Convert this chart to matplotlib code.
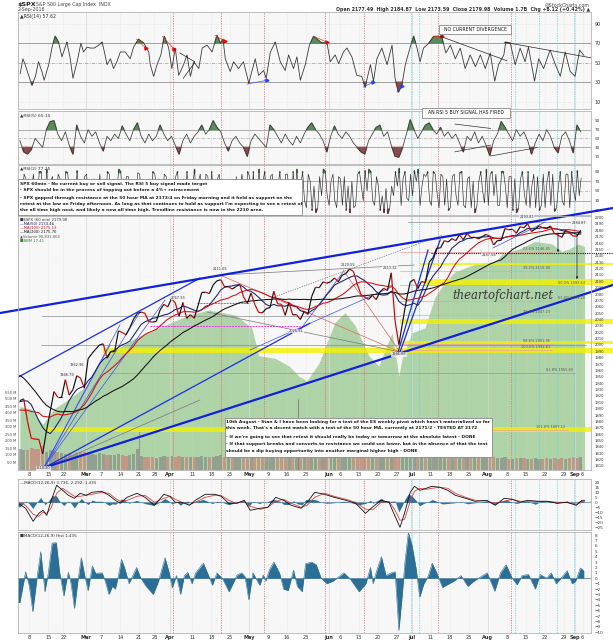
import numpy as np
import pandas as pd
import matplotlib
matplotlib.use("Agg")
import matplotlib.pyplot as plt
from matplotlib.collections import LineCollection
from matplotlib.patches import Rectangle

# ======================= DATA =======================
# S&P 500 closes (one per trading day, 3 Feb 2016 .. 2 Sep 2016); day index 0 = 8 Feb
close_prior = [2021.2, 2038.97, 2064.3, 2060.99, 2056.5, 2078.4, 2063.4, 2043.9,
               2012.7, 2016.7, 1990.3, 1943.1, 1922.0, 1923.7, 1938.7, 1890.3,
               1921.8, 1880.3, 1881.3, 1859.3, 1869.0, 1906.9, 1877.1, 1903.6,
               1882.95, 1893.4, 1940.2, 1939.4, 1903.0]
close = [
    1912.5, 1915.4, 1880.1, 1853.4, 1852.2, 1851.9, 1829.1, 1864.8, 1895.6, 1926.8,
    1917.8, 1917.8, 1945.5, 1921.3, 1929.8, 1951.7, 1948.1, 1932.2,
    1978.4, 1986.5, 1993.4, 1999.99, 2001.8, 1979.3, 1989.3, 1989.6, 2022.2, 2019.6,
    2015.9, 2027.2, 2040.6, 2049.6, 2051.6, 2049.8, 2036.7, 2035.9, 2037.1, 2055.0,
    2063.9, 2059.7,
    2072.8, 2066.1, 2045.2, 2066.7, 2041.9, 2047.6, 2041.99, 2061.7, 2082.4, 2082.8,
    2080.7, 2094.3, 2100.8, 2102.4, 2091.5, 2091.6, 2087.8, 2091.7, 2095.2, 2075.8, 2065.3,
    2081.4, 2063.4, 2051.1, 2050.6, 2057.1, 2058.7, 2084.4, 2064.5, 2064.1, 2046.6,
    2066.7, 2047.2, 2047.6, 2040.0, 2052.3, 2048.0, 2076.1, 2090.5, 2090.1, 2099.1, 2096.95,
    2099.3, 2105.3, 2099.1, 2109.4, 2112.1, 2119.1, 2115.5, 2096.1, 2079.1, 2075.3,
    2071.5, 2078.0, 2071.2, 2083.3, 2088.9, 2085.5, 2113.3, 2037.4, 2000.5, 2036.1,
    2070.8, 2098.9,
    2102.95, 2088.6, 2099.7, 2097.9, 2129.9, 2137.2, 2152.1, 2152.4, 2163.8, 2161.7,
    2166.9, 2163.8, 2173.0, 2165.2, 2175.0, 2168.5, 2169.2, 2166.6, 2170.1, 2173.6,
    2170.8, 2157.0, 2163.8, 2164.3, 2182.9, 2180.9, 2181.7, 2175.5, 2185.8, 2184.1,
    2190.2, 2178.2, 2182.2, 2187.0, 2183.9, 2182.6, 2186.9, 2175.4, 2172.5, 2169.0,
    2180.4, 2176.1, 2170.95,
    2170.9, 2179.98]
# hourly volume (millions), one value per day
volume_m = [
    150, 145, 140, 160, 150, 150, 170, 130, 140, 135, 125, 120, 115, 120, 110, 120, 125, 130,
    120, 115, 110, 120, 115, 110, 105, 110, 115, 105, 100, 110, 115, 150, 100, 95, 90, 95, 85, 90, 100, 95,
    100, 95, 100, 95, 90, 95, 90, 95, 100, 95, 90, 90, 100, 105, 95, 90, 90, 95, 95, 100, 105,
    95, 100, 105, 100, 95, 95, 100, 95, 90, 95, 90, 95, 100, 105, 100, 85, 90, 95, 90, 85, 100,
    95, 90, 90, 85, 90, 90, 95, 100, 105, 100, 95, 105, 120, 95, 95, 95, 100, 180, 160, 130, 120, 110,
    100, 95, 90, 90, 100, 95, 95, 90, 90, 95, 85, 85, 90, 85, 90, 85, 90, 90, 95, 90,
    95, 90, 85, 85, 90, 80, 80, 85, 85, 85, 80, 80, 85, 80, 80, 85, 80, 85, 80, 85, 80, 85, 90,
    85, 90]
vol_spike_day = [28, 70]
vol_spike_m = [293, 507]
# green breadth overlay (percent of panel)
bbm_day = [-3, 0, 3, 6, 9, 14.5, 19, 23, 27.5, 33.7, 41.6, 47, 53.8, 58.2, 60, 64.3, 68, 70.6,
           72.7, 75.9, 80.1, 82.8, 85.4, 89.1, 91.7, 95.2, 97, 98, 100.5, 103.9, 106.5, 109.2,
           111.8, 117.1, 122.4, 124.2, 128.7, 132.9, 137.4, 140, 141.8, 144.4, 146]
bbm_val = [25, 24, 18, 24, 27, 33, 44, 48, 52, 56, 61, 63, 61, 56, 45, 44, 41, 37, 35, 42, 58,
           62, 57, 45, 41, 54, 37, 45, 54, 56, 68, 74, 78, 81, 82, 85, 87, 90, 89, 86, 87, 89, 88]
# RSI(14): (day, value)
rsi14_pts = [(-2.9, 39), (-2.2, 54), (-1.6, 48), (-0.7, 37), (0.2, 27), (1.1, 36), (1.9, 51),
             (2.8, 41), (3.4, 32), (4.6, 48), (5.5, 66), (6.3, 77), (7.2, 71), (8.1, 56), (9.4, 71),
             (10.3, 54), (11.0, 34), (12.1, 51), (13.1, 70), (13.8, 61), (14.7, 66), (15.6, 65),
             (16.6, 65), (17.8, 68), (18.7, 71), (19.3, 61), (20.0, 48), (20.9, 54), (21.7, 44),
             (22.6, 51), (23.5, 61), (24.8, 61), (26.1, 54), (27.0, 66), (28.3, 74), (29.7, 70),
             (31.0, 61), (31.4, 48), (32.3, 36), (33.2, 48), (34.2, 58), (35.1, 77), (36.2, 66),
             (37.1, 44), (38.0, 65), (38.9, 37), (40.2, 48), (41.1, 58), (42.0, 36), (42.9, 51),
             (44.2, 44), (45.1, 65), (46.4, 68), (47.7, 61), (49.0, 78), (49.9, 70), (50.6, 74),
             (51.2, 54), (52.5, 41), (53.4, 51), (54.7, 44), (56.0, 51), (57.4, 29), (58.2, 41),
             (59.1, 54), (60.0, 37), (61.3, 42), (62.0, 34), (63.1, 61), (64.4, 71), (65.7, 51),
             (67.0, 42), (67.9, 58), (69.2, 44), (70.1, 56), (71.0, 32), (72.3, 48), (73.4, 68),
             (74.5, 77), (76.7, 70), (78.0, 71), (78.9, 51), (80.2, 58), (81.1, 49), (82.4, 61),
             (83.3, 65), (84.6, 56), (85.9, 37), (87.2, 36), (88.1, 25), (89.5, 48), (90.3, 31),
             (91.2, 54), (92.5, 65), (93.9, 48), (95.2, 68), (96.0, 34), (96.9, 20), (97.8, 27),
             (98.7, 48), (100.0, 66), (100.9, 77), (101.8, 65), (102.6, 51), (103.5, 65),
             (104.9, 70), (106.2, 77), (107.5, 77), (108.4, 75), (109.4, 60), (110.6, 68),
             (111.9, 54), (113.2, 65), (114.5, 44), (115.8, 58), (117.2, 46), (118.5, 58),
             (119.8, 44), (121.1, 60), (122.3, 31), (123.3, 48), (124.7, 58), (125.2, 71),
             (126.4, 70), (127.7, 48), (129.0, 65), (130.3, 51), (131.2, 66), (132.8, 31),
             (133.9, 54), (135.2, 44), (136.9, 63), (138.3, 48), (139.6, 36), (140.9, 61),
             (142.2, 41), (143.5, 36), (144.7, 63), (145.8, 57.6)]
# RSI(5), one value per day from day -3
rsi5_val = [45, 20, 15, 25, 50, 40, 30, 70, 88, 90, 60, 45, 65, 35, 15, 80, 55, 40, 70, 55,
            65, 40, 22, 55, 45, 60, 50, 78, 60, 45, 70, 85, 55, 40, 60, 45, 55, 80, 60, 45,
            55, 35, 15, 45, 60, 40, 55, 65, 80, 60, 70, 90, 75, 65, 40, 22, 45, 55, 40, 30,
            10, 45, 60, 50, 40, 30, 80, 70, 55, 40, 60, 45, 35, 55, 40, 60, 75, 85, 70, 60,
            45, 20, 55, 78, 60, 50, 65, 55, 40, 30, 20, 15, 45, 60, 75, 80, 55, 65, 35, 10,
            8, 30, 60, 92, 70, 50, 65, 80, 85, 70, 60, 75, 55, 65, 50, 60, 40, 20, 55, 45,
            65, 40, 55, 35, 12, 45, 60, 88, 75, 60, 45, 70, 55, 65, 45, 15, 40, 60, 45, 70,
            55, 30, 18, 55, 65, 45, 18, 80, 65]
# RSI(2): late-session value and opening-session swing, per day from day -3
rsi2_val = [20, 85, 10, 60, 15, 90, 40, 95, 70, 30, 85, 20, 90, 45, 15, 92, 60, 80, 25, 70,
            10, 85, 55, 90, 30, 75, 95, 40, 80, 20, 65, 88, 35, 15, 70, 90, 50, 25, 85, 10,
            60, 80, 30, 75, 90, 55, 95, 70, 30, 85, 15, 40, 75, 20, 65, 10, 5, 80, 60, 30,
            90, 20, 15, 95, 70, 35, 80, 25, 60, 15, 85, 40, 90, 95, 60, 30, 85, 10, 5, 80,
            95, 40, 70, 30, 80, 20, 10, 5, 15, 85, 60, 92, 95, 30, 80, 10, 5, 3, 60, 90,
            97, 75, 35, 85, 92, 95, 60, 80, 30, 90, 45, 85, 20, 10, 80, 40, 88, 20, 75, 15,
            5, 70, 50, 95, 85, 40, 20, 90, 60, 80, 10, 5, 75, 45, 90, 60, 15, 10, 85, 70,
            20, 8, 60, 30, 85, 15, 50, 92, 77]
rsi2_open = [70, 30, 75, 25, 85, 20, 90, 35, 15, 80, 40, 75, 20, 88, 70, 30, 15, 35, 85, 20,
             75, 40, 15, 30, 85, 20, 50, 90, 25, 80, 15, 40, 85, 60, 20, 35, 85, 75, 20, 80,
             20, 30, 90, 15, 40, 20, 60, 10, 85, 20, 80, 90, 20, 85, 15, 70, 60, 15, 20, 85,
             20, 80, 90, 20, 25, 90, 20, 85, 15, 90, 20, 85, 15, 40, 20, 90, 15, 70, 60, 15,
             40, 90, 20, 85, 15, 75, 80, 60, 70, 20, 90, 30, 50, 90, 20, 60, 40, 55, 15, 40,
             60, 20, 90, 30, 40, 70, 20, 85, 90, 20, 85, 15, 80, 75, 15, 85, 20, 90, 15, 80,
             70, 20, 90, 25, 20, 90, 85, 20, 90, 15, 80, 75, 15, 90, 20, 15, 85, 80, 20, 15,
             90, 85, 15, 90, 20, 85, 90, 30, 40]
# MACD(12,26,9) line and signal
macd_day = [-3, -1.5, 0.5, 2, 3.1, 4.1, 5.2, 6.7, 8.3, 9.8, 11.4, 12.9, 14.5, 16, 18.6, 20.5,
            22.2, 23.5, 25.3, 27.9, 30, 32.5, 35, 36.6, 38, 39.7, 41.8, 43.3, 45.9, 48.5, 50.1,
            52.1, 54.2, 56.2, 57.8, 60.4, 62.4, 64.5, 66.6, 68.6, 71.2, 72.8, 74.8, 77.4, 79.9,
            83, 85.6, 88.2, 90.3, 92.3, 94.4, 96, 97.3, 98.5, 100, 101.1, 102.6, 104.2, 105.7,
            107.8, 109.9, 111.9, 114.6, 117.1, 120.2, 122.4, 124.8, 126.9, 129, 131, 133.6,
            136.2, 138.8, 141.3, 143.8, 145.3, 146]
macd_val = [-2, -6, -19, -11, -8, -13, 1, 17, 12, 7, 4, 9, 7, 10, 11, 7, 2, -1, 5, 9, 5, -3, 8,
            6, 0, 0, -3, 2, 8, 8, 6, -1, -1, 2, -8, -6, -5, 5, 2, -3, -6, 0, 10, 8, 5, 2, -1,
            -11, -4, 2, 0, -14, -25, -11, 10, 16, 12, 14, 16, 15, 12, 7, 4, 1, 2, -3, 4, 3, 0,
            2, 1, 1, -1, 0, -3, 2, 2]
signal_val = [0, -3, -12, -14, -10, -11, -6, 9, 14, 10, 6, 6, 7, 8, 10, 9, 4, 1, 2, 6, 7, 0, 4,
              6, 3, 0, -2, 0, 5, 7, 7, 2, -1, 1, -4, -7, -5, 1, 3, -1, -5, -3, 5, 9, 6, 3, 0,
              -7, -7, 0, 1, -8, -18, -17, 1, 11, 14, 13, 14, 15, 14, 9, 5, 2, 1, -1, 1, 3, 1,
              1, 1, 1, 0, 0, -2, 0, 1]
hist_pts = [(-3.7, -4.5), (-3, -4.5), (-1.5, 1.2), (-0.5, -1.5), (0.4, -6.2), (1.5, 0), (2.5, 4.9),
            (3.1, 1), (3.6, -2.5), (4.5, 1), (5.5, 6.5), (6.6, 6.6), (7.5, 1), (8.6, -3.3),
            (9.3, -0.5), (9.8, 1.1), (10.5, -1), (11.4, -5.6), (12.3, -0.5), (13.2, 3.8),
            (14.1, 0.5), (15, -2.3), (16.1, 2.3), (17, 0.9), (18.7, 1), (19.5, -0.5), (20.5, -3),
            (21.4, -1.5), (22.2, -2), (23, 0.5), (23.8, 3.5), (24.6, 2), (25.8, -1), (26.8, 0.5),
            (27.8, 2), (28.9, 0), (30.3, -1.5), (32.2, -3), (33.6, -0.5), (35.3, 3.8), (36.4, 1),
            (37.2, -1.8), (38.3, 0.5), (39.4, -3), (40.4, 0.5), (41.3, 1.1), (42.4, -1), (43.4, 1),
            (45.4, 2.8), (46.5, 1), (47.8, -1.3), (49, 1), (50.4, 0), (52.2, -2.5), (54.3, 0.6),
            (55.5, 1), (56.4, 0.3), (57.4, -4), (58.5, 1), (60.3, -1.3), (61.2, 0.6), (61.9, -0.5),
            (62.8, 1.5), (64, 3), (65.5, 1), (66.6, -2), (67.8, -2.3), (69.2, 1.5), (70.2, -1.5),
            (71.5, -2.5), (72.4, 2.7), (74, 3), (75.2, 2.5), (76.5, 0), (78, -1), (79.7, -0.5),
            (82.5, 1), (84, 0), (86.5, -2.5), (88.3, -1), (89.5, 2), (90.2, -1), (91.2, 1.5),
            (92.4, 4), (93.6, 0.5), (95, 1), (96, 1.2), (97, -9.7), (97.9, -3), (98.6, 3),
            (99.5, 8.5), (100.5, 6), (101.5, 2), (102.5, -3.5), (103.6, -1), (104.8, 0.5),
            (105.8, 2.8), (107, 1), (108.5, -1.7), (110.3, -1), (111.6, -0.5), (113.4, 0.5),
            (115.2, -1.5), (116.5, -0.7), (118, 0), (120.3, 1), (122.3, -2.4), (123.8, 1),
            (125.3, 2.5), (126.9, 0), (128.2, -1.2), (129.5, 0.5), (131.2, 0.7), (133, -2),
            (134.3, 0.7), (136, 0), (137.2, 1), (138.5, -1), (139.8, 0), (141.4, 1.4),
            (142.7, -1), (143.6, -0.6), (144.9, 1.9), (145.8, 1.4)]
# axis labels
tick_dates = ['2016-02-08', '2016-02-16', '2016-02-22', '2016-03-01', '2016-03-07', '2016-03-14',
              '2016-03-21', '2016-03-28', '2016-04-01', '2016-04-11', '2016-04-18', '2016-04-25',
              '2016-05-02', '2016-05-09', '2016-05-16', '2016-05-23', '2016-06-01', '2016-06-06',
              '2016-06-13', '2016-06-20', '2016-06-27', '2016-07-01', '2016-07-11', '2016-07-18',
              '2016-07-25', '2016-08-01', '2016-08-08', '2016-08-15', '2016-08-22', '2016-08-29',
              '2016-09-01', '2016-09-06']
tick_labels = ['8', '15', '22', 'Mar', '7', '14', '21', '28', 'Apr', '11', '18', '25', 'May', '9',
               '16', '23', 'Jun', '6', '13', '20', '27', 'Jul', '11', '18', '25', 'Aug', '8', '15',
               '22', '29', 'Sep', '6']
holidays = ['2016-02-15', '2016-03-25', '2016-05-30', '2016-07-04', '2016-09-05']
red_vlines = [38.0, 50.5, 62.0, 78.0, 88.3, 107.9, 127.0]
cyan_vlines = [100.7, 102.8, 128.2, 134.4, 139.2, 143.7]
# trend lines (day, price, day, price)
blue_thick = [(-7.73, 2050.2, 154.0, 2215.0), (3.6, 1806.9, 154.0, 2094.2)]
blue_med = [(-7.73, 1934.0, 45.0, 2105.0), (3.7, 1806.4, 74.0, 2034.0),
            (97.8, 1989.0, 108.4, 2164.8), (97.3, 1989.0, 105.2, 2149.0)]
blue_thin = [(3.7, 1806.4, 23.9, 2031.4), (3.7, 1806.4, 29.2, 2051.8), (3.7, 1806.4, 35.8, 2070.6),
             (3.7, 1806.4, 21.3, 2000.0), (58.2, 1992.0, 95.5, 2091.0), (71.4, 2023.5, 82.8, 2114.5),
             (122.3, 2152.2, 136.1, 2193.0)]
red_thin = [(82.8, 2117.7, 97.8, 1989.0), (50.3, 2109.8, 97.8, 1989.0)]
gray_thin = [(46.9, 2051.8, 97.8, 1989.0), (50.1, 2109.8, 101.5, 2125.5), (3.7, 1806.4, 45.0, 1913.6)]
gray_dash = [(64.6, 2075.3, 108.9, 2172.6)]
gray_h = [(2045.5, 3.4, 97.8), (2000.0, 3.2, 147.0), (2193.0, 100.0, 147.0)]
magenta_h = [(2065.9, 44.3, 58.2), (2029.8, 31.9, 71.4)]
yellow_bands = [(1987.5, 1995.0, 19.4, 154), (2000.8, 2006.0, 97.8, 154), (2033.0, 2040.8, 97.8, 154),
                (2094.1, 2103.6, 104.2, 154), (2125.5, 2128.7, 103.0, 154), (1863.4, 1871.2, 4.1, 148.2)]
fib_price = [2146.45, 2115.90, 2093.63, 2069.20, 2047.23, 2001.96, 1992.81, 1955.60, 1867.12]
fib_label = ['23.6% 2146.45', '38.2% 2115.90', '50.0% 2093.63', '61.8% 2069.20', '78.6% 2047.23',
             '88.6% 2001.96', '100.0% 1992.81', '61.8% 1955.60', '161.8% 1867.12']
fib_start = [97.8, 97.8, 97.8, 97.8, 97.8, 97.8, 97.8, 21.0, 122.0]
fib_end = [138.0, 138.0, 138.0, 138.0, 138.0, 138.0, 138.0, 144.0, 142.0]
price_notes = [(3.7, 1803, '1810.10'), (50.3, 2116, '2111.05'), (84.0, 2123, '2120.55'),
               (70.5, 2019, '2025.91'), (97.5, 1982, '1991.68'), (131.2, 2198, '2193.81'),
               (145.0, 2189, '2184.87'), (121.2, 2138, '2147.58'), (95.2, 2118, '2113.32'),
               (39.3, 2071, '2067.33'), (12.5, 1966, '1962.96'), (9.9, 1950, '1946.79')]
arrows_down = [(139.5, 2180.5, 2141.2), (144.5, 2175.8, 2098.9)]
dotted_support = (2144.0, 106.0, 154.0)
rsi_red_div = [(28.3, 74, 30.7, 65), (35.1, 77, 38.2, 64), (49.0, 78, 51.5, 72), (75.1, 77, 78.5, 71),
               (106.6, 77, 108.8, 77)]
rsi_blue_div = [(57.4, 28, 62.7, 32), (88.1, 25, 90.7, 30), (97.0, 20, 98.3, 26)]
rsi_black = [(108.5, 77, 126.0, 52), (125.3, 71, 154.0, 51), (39.7, 60, 43.6, 51), (40.6, 34, 43.6, 50)]
rsi5_black = [(112.3, 82.5, 121.7, 72.7), (112.3, 20, 121.7, 35), (121.7, 10.5, 134.0, 29.5)]
ma_hours = [50, 100, 200]
bars_per_day = 7

# ======================= FIGURE =======================
W, H = 613, 640
fig = plt.figure(figsize=(W / 100, H / 100), dpi=100)
fig.patch.set_facecolor('white')
plt.rcParams['font.family'] = ['DejaVu Sans']
XLIM = (-3, 148.2)

def px_axes(l, t, r, b):
    return fig.add_axes([l / W, 1 - b / H, (r - l) / W, (b - t) / H])

def ftext(x, y, s, **kw):
    return fig.text(x / W, 1 - y / H, s, **kw)

def frect(l, t, r, b, **kw):
    rect = Rectangle((l / W, 1 - b / H), (r - l) / W, (b - t) / H, transform=fig.transFigure, **kw)
    fig.patches.append(rect)
    return rect

cal = pd.bdate_range('2016-02-03', '2016-09-06')
cal = cal[~cal.isin(pd.to_datetime(holidays))]
i0 = list(cal).index(pd.Timestamp('2016-02-08'))
pos = {d: k - i0 for k, d in enumerate(cal)}
tick_pos = [pos[pd.Timestamp(d)] for d in tick_dates]

def style(ax, ylim, yticks, fs=3.5, bg='#f7f7f7', xlabels=False):
    ax.set_xlim(XLIM)
    ax.set_ylim(ylim)
    ax.set_facecolor(bg)
    for s in ax.spines.values():
        s.set_color('#b4b4b4')
        s.set_linewidth(0.6)
    ax.yaxis.tick_right()
    ax.set_yticks(yticks)
    ax.tick_params(axis='y', length=0, labelsize=fs, pad=2.5, colors='#333333')
    ax.tick_params(axis='x', length=0, pad=1.5)
    ax.set_xticks(tick_pos)
    if xlabels:
        ax.set_xticklabels(tick_labels, fontsize=3.6, color='#333333')
        for lab, t in zip(ax.get_xticklabels(), tick_labels):
            if t.isalpha():
                lab.set_fontweight('bold')
    else:
        ax.set_xticklabels([])

def vgrid(ax):
    for p, lab in zip(tick_pos, tick_labels):
        if lab.isalpha():
            ax.axvline(p, color='#d6d6d6', lw=0.5, zorder=0.2)
        else:
            ax.axvline(p, color='#d9d9d9', lw=0.4, ls=(0, (1, 2)), zorder=0.2)
    for d in red_vlines:
        ax.axvline(d, color='#e36b6b', lw=0.5, ls=(0, (2, 1.5)), zorder=0.6)
    for d in cyan_vlines:
        ax.axvline(d, color='#55d6ea', lw=0.5, ls=(0, (2, 1.5)), zorder=0.6)

day_x = np.arange(len(close)) - 3 + 0.5

# ---------------- header ----------------
ftext(18, 4.5, '$SPX', fontsize=4.6, fontweight='bold', va='center', color='#222222')
ftext(36.5, 4.5, 'S&P 500 Large Cap Index  INDX', fontsize=3.4, va='center', color='#444444')
ftext(18, 9.5, '2-Sep-2016', fontsize=3.4, va='center', color='#444444')
ftext(590, 4.5, '@StockCharts.com', fontsize=3.4, va='center', ha='right', color='#444444')
ftext(590, 9.5, 'Open 2177.49  High 2184.87  Low 2173.59  Close 2179.98  Volume 1.7B  Chg +8.12 (+0.42%) \u25b2',
      fontsize=3.4, va='center', ha='right', color='#333333', fontweight='bold')

# ---------------- RSI(14) ----------------
ax1 = px_axes(18, 12, 591, 109)
style(ax1, (2.5, 102), [10, 30, 50, 70, 90])
vgrid(ax1)
r14d = np.array([p[0] for p in rsi14_pts]) + 0.5
r14v = np.array([p[1] for p in rsi14_pts], dtype=float)
for lv in (70, 30):
    ax1.axhline(lv, color='#a0a0a0', lw=0.7, zorder=0.5)
ax1.axhline(50, color='#a8a8a8', lw=0.6, ls=(0, (4, 1.5, 1, 1.5)), zorder=0.5)
for lv in (10, 90):
    ax1.axhline(lv, color='#e0e0e0', lw=0.4, ls=':', zorder=0.3)
ax1.fill_between(r14d, r14v, 70, where=r14v > 70, interpolate=True, color='#5b8a5b', zorder=1)
ax1.fill_between(r14d, r14v, 30, where=r14v < 30, interpolate=True, color='#8a4c4c', zorder=1)
ax1.plot(r14d, r14v, color='#3a3a3a', lw=0.6, zorder=2)
for a, b, c, d in rsi_red_div:
    ax1.plot([a, c], [b, d], color='#ee3333', lw=0.5, zorder=3)
    ax1.plot([c], [d], marker='>', ms=2.2, color='#ee0000', zorder=3)
for a, b, c, d in rsi_blue_div:
    ax1.plot([a, c], [b, d], color='#3355ff', lw=0.5, zorder=3)
    ax1.plot([c], [d], marker='>', ms=2.2, color='#2244ff', zorder=3)
for a, b, c, d in rsi_black:
    ax1.plot([a, c], [b, d], color='#222222', lw=0.5, zorder=3)
ax1.text(0.004, 0.975, '\u25b2RSI(14) 57.62', transform=ax1.transAxes, fontsize=3.4, va='top', color='#333333')

# ---------------- RSI(5) ----------------
ax2 = px_axes(18, 111, 591, 164)
style(ax2, (-7.5, 112), [10, 30, 50, 70, 90], fs=3.0)
vgrid(ax2)
r5d = np.arange(len(rsi5_val)) - 3 + 0.5
r5v = np.array(rsi5_val, dtype=float)
ax2.axhline(70, color='#a0a0a0', lw=0.6, zorder=0.5)
ax2.axhline(30, color='#a0a0a0', lw=0.6, zorder=0.5)
ax2.axhline(50, color='#a8a8a8', lw=0.5, ls=(0, (4, 1.5, 1, 1.5)), zorder=0.5)
ax2.fill_between(r5d, r5v, 70, where=r5v > 70, interpolate=True, color='#5b8a5b', zorder=1)
ax2.fill_between(r5d, r5v, 30, where=r5v < 30, interpolate=True, color='#8a4c4c', zorder=1)
ax2.plot(r5d, r5v, color='#3a3a3a', lw=0.55, zorder=2)
for a, b, c, d in rsi5_black:
    ax2.plot([a, c], [b, d], color='#333333', lw=0.5, zorder=3)
ax2.text(0.004, 0.96, '\u25b2RSI(5) 65.15', transform=ax2.transAxes, fontsize=3.2, va='top', color='#333333')

# ---------------- RSI(2) ----------------
ax3 = px_axes(18, 165, 591, 215)
style(ax3, (0, 104), [10, 30, 50, 70, 90], fs=3.0)
vgrid(ax3)
n2 = min(len(rsi2_val), len(rsi2_open))
base2 = np.arange(n2) - 3.0
r2d = np.column_stack([base2 + 0.1, base2 + 0.6]).ravel()
r2v = np.column_stack([np.array(rsi2_open[:n2], float), np.array(rsi2_val[:n2], float)]).ravel()
ax3.axhline(70, color='#a0a0a0', lw=0.6, zorder=0.5)
ax3.axhline(30, color='#a0a0a0', lw=0.6, zorder=0.5)
ax3.axhline(50, color='#a8a8a8', lw=0.5, ls=(0, (4, 1.5, 1, 1.5)), zorder=0.5)
ax3.fill_between(r2d, r2v, 88, where=r2v > 88, interpolate=True, color='#5b8a5b', zorder=1)
ax3.fill_between(r2d, r2v, 12, where=r2v < 12, interpolate=True, color='#8a4c4c', zorder=1)
ax3.plot(r2d, r2v, color='#2a2a2a', lw=0.45, zorder=2)
ax3.text(0.004, 0.98, '\u25b2RSI(2) 77.25', transform=ax3.transAxes, fontsize=3.2, va='top', color='#333333')

# ---------------- main price panel ----------------
PRICE_LIM = (1803.7, 2202.5)
axb = px_axes(18, 216, 591, 470)
axb.set_xlim(XLIM)
axb.set_ylim(0, 100)
axb.set_facecolor('#f7f7f7')
axb.set_xticks([])
axb.set_yticks([])
bx = np.array(bbm_day, dtype=float) + 0.5
axb.fill_between(bx, 0, bbm_val, color='#aed3a6', lw=0, zorder=1)
axv = axb.twinx()
axv.set_ylim(0, 1814)
axv.set_yticks([])
vcol = ['#808080' if (k == 0 or close[k] >= close[k - 1]) else '#cf6f6f' for k in range(len(close))]
axv.bar(np.arange(len(volume_m)) - 3 + 0.5, volume_m, width=0.85, color=vcol, alpha=0.6, lw=0)
axv.vlines(np.array(vol_spike_day) + 0.9, 0, vol_spike_m, color='#777777', lw=0.6)
for s in list(axb.spines.values()) + list(axv.spines.values()):
    s.set_visible(False)
for v in range(50, 600, 50):
    ftext(16, 470 - v * 0.14 - 0.5, '%d M' % v, fontsize=2.6, ha='right', va='center', color='#444444')

axm = px_axes(18, 216, 591, 470)
style(axm, PRICE_LIM, np.arange(1810, 2201, 10), fs=2.7, bg='none', xlabels=True)
axm.patch.set_alpha(0)
vgrid(axm)
for y0, y1, d0, d1 in yellow_bands:
    axm.fill_between([d0, d1], y0, y1, color='#f2f200', alpha=0.8, lw=0, zorder=1, clip_on=False)
for lv, d0, d1 in gray_h:
    axm.plot([d0, d1], [lv, lv], color='#8c8c8c', lw=0.5, zorder=1.2)
for k, lv in enumerate(fib_price):
    col = '#9a9a9a' if k == 7 else '#eea0a0'
    axm.plot([fib_start[k], fib_end[k]], [lv, lv], color=col, lw=0.5, zorder=1.2)
    if k in (2, 3):
        axm.text(fib_end[k] + 1.4, lv + 1.2, fib_label[k], fontsize=2.5, ha='left', va='bottom',
                 color='#555555', zorder=4)
    else:
        axm.text(fib_end[k] - 0.5, lv + 1.2, fib_label[k], fontsize=2.5, ha='right', va='bottom',
                 color='#555555', zorder=4)
for lv, d0, d1 in magenta_h:
    axm.plot([d0, d1], [lv, lv], color='#ee33ee', lw=0.7, ls=(0, (2, 1)), zorder=1.5)
for a, b, c, d in gray_thin:
    axm.plot([a, c], [b, d], color='#777777', lw=0.5, zorder=1.6)
for a, b, c, d in gray_dash:
    axm.plot([a, c], [b, d], color='#777777', lw=0.5, ls=(0, (2, 1.5)), zorder=1.6)
for a, b, c, d in red_thin:
    axm.plot([a, c], [b, d], color='#e06060', lw=0.5, zorder=1.6)
for a, b, c, d in blue_thin:
    axm.plot([a, c], [b, d], color='#3b4bff', lw=0.5, zorder=1.7)
for a, b, c, d in blue_med:
    axm.plot([a, c], [b, d], color='#1a2ee6', lw=0.9, zorder=1.8)
for a, b, c, d in blue_thick:
    axm.plot([a, c], [b, d], color='#1020dd', lw=1.6, zorder=1.9, clip_on=False)
lv, d0, d1 = dotted_support
axm.plot([d0, d1], [lv, lv], color='#111111', lw=0.8, ls=(0, (1, 1)), zorder=2, clip_on=False)

# moving averages (hourly lengths expressed in trading days)
allc = pd.Series(close_prior + close, dtype=float)
ma_cols = ['#14206e', '#d01010', '#111111']
for hrs, col in zip(ma_hours, ma_cols):
    win = int(round(hrs / bars_per_day))
    ma = allc.rolling(win, min_periods=1).mean().values[len(close_prior):]
    axm.plot(day_x, ma, color=col, lw=0.75, zorder=2.5)

segs = [[(day_x[k], close[k]), (day_x[k + 1], close[k + 1])] for k in range(len(close) - 1)]
scol = ['#111111' if close[k + 1] >= close[k] else '#d00000' for k in range(len(close) - 1)]
axm.add_collection(LineCollection(segs, colors=scol, linewidths=0.85, zorder=3))

for d, p, s in price_notes:
    axm.text(d, p, s, fontsize=2.5, ha='center', va='bottom', color='#333333', zorder=4,
             bbox=dict(boxstyle='square,pad=0.1', fc='#f4f4f4', ec='none', alpha=0.8))
for d, p0, p1 in arrows_down:
    axm.annotate('', xy=(d, p1), xytext=(d, p0),
                 arrowprops=dict(arrowstyle='-|>', color='#222222', lw=0.5, mutation_scale=3), zorder=4)

leg = ['\u25a0$SPX (60 min) 2179.98', '\u2014MA(50) 2174.46', '\u2014MA(100) 2175.13',
       '\u2014MA(200) 2175.70', '\u25b2Volume 90,833,064', '\u25a0BBM 17.41']
legc = ['#333333', '#14206e', '#d01010', '#111111', '#555555', '#3d7a3d']
for k, (s, c) in enumerate(zip(leg, legc)):
    ftext(20, 219.5 + k * 4.2, s, fontsize=2.7, va='center', color=c)

ftext(503, 295, 'theartofchart.net', fontsize=8.4, family='DejaVu Serif', style='italic',
      ha='center', va='center', color='#2a2a2a', alpha=0.9)

# ---------------- MACD ----------------
ax4 = px_axes(18, 479, 591, 530)
style(ax4, (-27.7, 23.3), np.arange(-25, 21, 5), fs=3.0)
vgrid(ax4)
hd = np.array([p[0] for p in hist_pts]) + 0.5
hv = np.array([p[1] for p in hist_pts], dtype=float)
ax4.axhline(0, color='#88a6ba', lw=0.8, zorder=1)
ax4.fill_between(hd, 0, hv, color='#2f7197', lw=0, zorder=1.5)
md = np.array(macd_day) + 0.5
ax4.plot(md, signal_val, color='#e04040', lw=0.6, zorder=2)
ax4.plot(md, macd_val, color='#111111', lw=0.6, zorder=2.2)
ax4.text(0.004, 0.97, '\u2014MACD(12,26,9) 3.736, 2.292, 1.435', transform=ax4.transAxes,
         fontsize=3.0, va='top', color='#333333')

# ---------------- MACD histogram ----------------
ax5 = px_axes(18, 532, 591, 633)
style(ax5, (-10.15, 8.57), np.arange(-10, 9, 1), fs=3.0, xlabels=True)
vgrid(ax5)
ax5.axhline(0, color='#7e9cb0', lw=0.7, zorder=1)
ax5.fill_between(hd, 0, hv, color='#2c6f96', lw=0, zorder=1.5)
ax5.plot(hd, hv, color='#2c6f96', lw=0.4, zorder=1.6)
ax5.text(0.004, 0.985, '\u25a0MACD(12,26,9) Hist 1.435', transform=ax5.transAxes,
         fontsize=3.0, va='top', color='#333333')

# ---------------- text boxes ----------------
frect(18, 179, 302, 215, facecolor='white', edgecolor='#8a8a8a', lw=0.6, zorder=5)
box1 = ['SPX 60min - No current buy or sell signal. The RSI 5 buy signal made target',
        '- SPX should be in the process of topping out before a 4%+ retracement',
        '- SPX gapped through resistance at the 50 hour MA at 2173/4 on Friday morning and it held as support on the',
        "retest at the low on Friday afternoon. As long as that continues to hold as support I'm expecting to see a retest of",
        'the all time high next, and likely a new all time high. Trendline resistance is now in the 2210 area.']
for s, y in zip(box1, [184, 190, 197.5, 204, 210.5]):
    ftext(19.5, y, s, fontsize=3.12, fontweight='bold', va='center', color='#1a1a1a', zorder=6)

frect(225, 418, 492, 457, facecolor='white', edgecolor='#8a8a8a', lw=0.6, zorder=5)
box2 = ["10th August - Stan & I have been looking for a test of the ES weekly pivot which hasn't materialized so far",
        "this week. That's a decent match with a test of the 50 hour MA, currently at 2171/2 - TESTED AT 2172",
        "- If we're going to see that retest it should really be today or tomorrow at the absolute latest - DONE",
        "- If that support breaks and converts to resistance we could see lower, but in the absence of that the test",
        "should be a dip buying opportunity into another marginal higher high - DONE"]
for s, y in zip(box2, [422, 428, 437, 444, 451]):
    ftext(226.5, y, s, fontsize=3.2, fontweight='bold', va='center', color='#1a1a1a', zorder=6)

frect(439, 25, 511, 34, facecolor='white', edgecolor='#8a8a8a', lw=0.6, zorder=5)
ftext(475, 29.5, 'NO CURRENT DIVERGENCE', fontsize=3.3, ha='center', va='center', color='#111111', zorder=6)
frect(422, 108, 510, 117.5, facecolor='white', edgecolor='#8a8a8a', lw=0.6, zorder=5)
ftext(466, 112.8, 'AN RSI 5 BUY SIGNAL HAS FIRED', fontsize=3.3, ha='center', va='center', color='#111111', zorder=6)

fig.savefig('out.png', dpi=100, facecolor='white')
